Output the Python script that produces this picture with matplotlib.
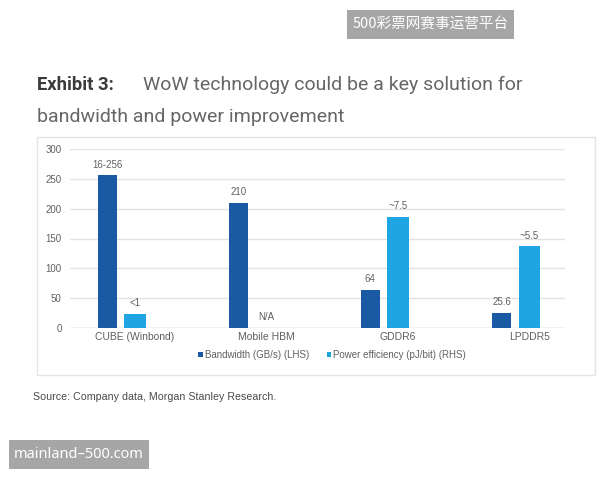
import matplotlib
matplotlib.use("Agg")
import matplotlib.pyplot as plt
from matplotlib.patches import Rectangle, Patch

categories = ["CUBE (Winbond)", "Mobile HBM", "GDDR6", "LPDDR5"]
bandwidth = [256, 210, 64, 25.6]
bandwidth_labels = ["16-256", "210", "64", "25.6"]
power_bar = [24, 0, 186, 137]
power_labels = ["<1", "N/A", "~7.5", "~5.5"]
yticks = [0, 50, 100, 150, 200, 250, 300]

DARK = "#1a5aa4"
LIGHT = "#1ea5e2"
TXT = "#606060"
FONT = ["Liberation Sans", "DejaVu Sans"]

fig = plt.figure(figsize=(6, 4.8), dpi=100)
fig.patch.set_facecolor("white")

W, H = 600, 480
def fx(px):
    return px / W
def fy(py):
    return 1 - py / H

# frame around chart
fig.patches.append(Rectangle((fx(37), fy(375)), fx(595) - fx(37), fy(137) - fy(375),
                             transform=fig.transFigure, fill=False, edgecolor="#e4e4e4",
                             linewidth=1.0, zorder=0))

ax = fig.add_axes([fx(70), fy(328), fx(565) - fx(70), fy(149) - fy(328)])
ax.set_ylim(0, 300)
ax.set_xlim(-0.494, 3.27)

x = list(range(len(categories)))
xd = [i - 0.21 for i in x]
b1 = ax.bar(xd, bandwidth, width=0.145, color=DARK, zorder=3)
b2 = ax.bar(x, power_bar, width=0.165, color=LIGHT, zorder=3)

for xi, v, lab in zip(xd, bandwidth, bandwidth_labels):
    ax.annotate(lab, (xi, v), xytext=(0, 4), textcoords="offset points",
                ha="center", va="bottom", fontsize=7, color=TXT, family=FONT)
for xi, v, lab in zip(x, power_bar, power_labels):
    ax.annotate(lab, (xi, v), xytext=(0, 4), textcoords="offset points",
                ha="center", va="bottom", fontsize=7, color=TXT, family=FONT)

ax.set_yticks(yticks)
ax.set_yticklabels([str(t) for t in yticks], fontsize=7, color=TXT, family=FONT)
ax.set_xticks(x)
ax.set_xticklabels(categories, fontsize=7.5, color=TXT, family=FONT)
ax.tick_params(axis="both", length=0, pad=6)
ax.tick_params(axis="x", pad=3)
ax.grid(axis="y", color="#e3e3e3", linewidth=1.0, zorder=0)
for s in ax.spines.values():
    s.set_visible(False)
ax.axhline(0, color="#d9d9d9", linewidth=1.0, zorder=2)

handles = [Patch(facecolor=DARK, label="Bandwidth (GB/s) (LHS)"),
           Patch(facecolor=LIGHT, label="Power efficiency (pJ/bit) (RHS)")]
leg = fig.legend(handles=handles, loc="center", bbox_to_anchor=(fx(332), fy(355)),
                 ncol=2, frameon=False, handlelength=0.5, handleheight=0.5,
                 handletextpad=0.2, columnspacing=1.8,
                 prop={"family": FONT, "size": 7})
for t in leg.get_texts():
    t.set_color(TXT)

# title
fig.text(fx(37), fy(90), "Exhibit 3:", fontsize=13.2, fontweight="bold", color="#3a3a3a",
         family=["Roboto", "DejaVu Sans"], va="baseline", ha="left")
fig.text(fx(143), fy(90), "WoW technology could be a key solution for", fontsize=14,
         color="#666666", family=["Roboto", "DejaVu Sans"], va="baseline", ha="left")
fig.text(fx(37), fy(122), "bandwidth and power improvement", fontsize=14,
         color="#666666", family=["Roboto", "DejaVu Sans"], va="baseline", ha="left")

# source
fig.text(fx(33), fy(397), "Source: Company data, Morgan Stanley Research.", fontsize=7.7,
         color="#4a4a4a", family=FONT, va="center", ha="left")

# watermarks
fig.patches.append(Rectangle((fx(347), fy(39)), fx(514) - fx(347), fy(10) - fy(39),
                             transform=fig.transFigure, facecolor="#a6a6a6",
                             edgecolor="none", zorder=5))
fig.text(fx(430.5), fy(24.5), "500彩票网赛事运营平台", fontsize=10.5, color="white",
         family=["Noto Sans CJK SC", "DejaVu Sans"], va="center", ha="center", zorder=6)
fig.patches.append(Rectangle((fx(9), fy(469)), fx(149) - fx(9), fy(440) - fy(469),
                             transform=fig.transFigure, facecolor="#a6a6a6",
                             edgecolor="none", zorder=5))
fig.text(fx(79), fy(454.5), "mainland–500.com", fontsize=10.5, color="white",
         family=["Noto Sans", "DejaVu Sans"], va="center", ha="center", zorder=6)

fig.savefig("out.png", dpi=100, facecolor="white")
